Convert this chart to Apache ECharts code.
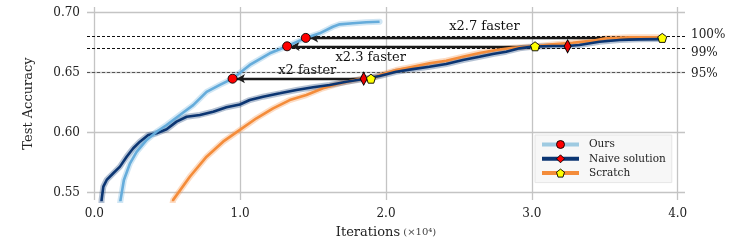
<!DOCTYPE html>
<html><head><meta charset="utf-8">
<script src="https://cdn.jsdelivr.net/npm/echarts@6/dist/echarts.min.js"></script>
<style>html,body{margin:0;padding:0;background:#fff}#c{width:747px;height:249px}</style>
</head><body><div id="c"></div>
<script>
// ---- data ----
const xTicks = [0, 1, 2, 3, 4];
const yTicks = [0.55, 0.60, 0.65, 0.70];
const ours = [[0.165,0.53],[0.18,0.544],[0.203,0.5606],[0.245,0.5745],[0.29,0.584],[0.359,0.594],[0.427,0.6008],[0.496,0.6064],[0.587,0.6148],[0.678,0.623],[0.77,0.634],[0.861,0.6398],[0.948,0.645],[1.066,0.6565],[1.203,0.6662],[1.322,0.672],[1.45,0.679],[1.545,0.6828],[1.636,0.6883],[1.682,0.6903],[1.773,0.6912],[1.865,0.692],[1.956,0.6925]];
const naive = [[0.045,0.53],[0.05,0.544],[0.062,0.555],[0.085,0.5606],[0.13,0.5662],[0.176,0.5717],[0.222,0.58],[0.267,0.587],[0.313,0.5925],[0.37,0.598],[0.427,0.5995],[0.496,0.6028],[0.564,0.6092],[0.633,0.6133],[0.724,0.6148],[0.815,0.6175],[0.906,0.6212],[0.998,0.6235],[1.066,0.6272],[1.157,0.63],[1.272,0.6328],[1.386,0.6356],[1.5,0.6378],[1.614,0.6398],[1.728,0.6425],[1.847,0.6447],[1.956,0.6472],[2.07,0.6508],[2.184,0.653],[2.298,0.655],[2.413,0.6572],[2.527,0.6606],[2.641,0.6633],[2.732,0.6656],[2.824,0.6675],[2.915,0.6703],[3.006,0.6717],[3.143,0.6722],[3.245,0.6722],[3.326,0.6731],[3.463,0.6758],[3.6,0.6772],[3.737,0.6778],[3.894,0.678]];
const scratch = [[0.52,0.53],[0.541,0.544],[0.553,0.5453],[0.655,0.5633],[0.77,0.58],[0.883,0.5925],[0.998,0.6023],[1.112,0.612],[1.226,0.6203],[1.34,0.6272],[1.454,0.6314],[1.568,0.637],[1.682,0.6411],[1.842,0.6453],[1.897,0.6447],[1.956,0.648],[2.07,0.6522],[2.184,0.655],[2.298,0.6578],[2.413,0.66],[2.527,0.6633],[2.641,0.6664],[2.755,0.6689],[2.869,0.6708],[3.022,0.672],[3.143,0.6736],[3.28,0.675],[3.417,0.6767],[3.508,0.6787],[3.668,0.6795],[3.894,0.6795]];
const levels = [0.679, 0.672, 0.645];
const levelLabels = ['100%', '99%', '95%'];
const oursMarks = [[0.948,0.645],[1.322,0.672],[1.45,0.679]];
const naiveMarks = [[1.847,0.645],[3.245,0.672]];
const scratchMarks = [[1.897,0.645],[3.022,0.672],[3.894,0.679]];
// arrows: [from x, to x, level]
const arrows = [[3.894,1.48,0.679],[3.022,1.352,0.672],[1.847,0.978,0.645]];
const arrowTexts = [['x2.7 faster',2.675,0.6881],['x2.3 faster',1.895,0.6625],['x2 faster',1.46,0.6517]];

const FONT = 'DejaVu Serif';
const C_OURS = '#65acdb', C_NAIVE = '#0b3572', C_SCR = '#f48c3a';
const DIAMOND = 'path://M0,-2L0.62,0L0,2L-0.62,0Z';
const PENT = 'path://M0,-1L0.951,-0.309L0.588,0.809L-0.588,0.809L-0.951,-0.309Z';
const LABEL_OFF = [[0,-2],[0,4],[0,1]];

function curve(name, data, color, symbol, z) {
  return {name, type:'line', data, showSymbol:false, symbol, smooth:false, z,
    lineStyle:{color, width:2.6}, itemStyle:{color}, emphasis:{disabled:true}};
}
function band(data, color, z) {
  return {name:'_band', type:'line', data, showSymbol:false, z, silent:true,
    lineStyle:{color, width:6, opacity:0.3, cap:'round', join:'round'}, emphasis:{disabled:true}};
}
function marks(name, data, symbol, size, color, z) {
  return {name, type:'scatter', data, symbol, symbolSize:size, z,
    itemStyle:{color, borderColor:'#000', borderWidth:0.9, opacity:1}, emphasis:{disabled:true}};
}

const option = {
  animation:false,
  grid:{left:87, right:62, top:7, bottom:49},
  xAxis:{type:'value', min:-0.05, max:4.05,
    axisLine:{show:false}, axisTick:{show:false, customValues:xTicks},
    axisLabel:{customValues:xTicks, formatter:v=>v.toFixed(1), fontFamily:FONT, fontSize:12, color:'#222', margin:8},
    splitLine:{show:true, lineStyle:{color:'#c4c4c4', width:1.3}},
    name:'{a|Iterations}{b| (×10⁴)}', nameLocation:'middle', nameGap:26,
    nameTextStyle:{rich:{a:{fontFamily:FONT, fontSize:13, color:'#222'}, b:{fontFamily:FONT, fontSize:10, color:'#444'}}}
  },
  yAxis:{type:'value', min:0.5439, max:0.70475,
    axisLine:{show:false}, axisTick:{show:false, customValues:yTicks},
    axisLabel:{customValues:yTicks, formatter:v=>v.toFixed(2), fontFamily:FONT, fontSize:12, color:'#222', margin:7},
    splitLine:{show:true, lineStyle:{color:'#c4c4c4', width:1.3}},
    name:'Test Accuracy', nameLocation:'middle', nameGap:52,
    nameTextStyle:{fontFamily:FONT, fontSize:13, color:'#222'}
  },
  legend:{orient:'vertical', left:535, top:135, padding:[4,6,4,5], itemGap:3.3, itemWidth:37, itemHeight:10,
    backgroundColor:'#f7f7f7', borderColor:'#e6e6e6', borderWidth:1,
    textStyle:{fontFamily:FONT, fontSize:10.5, color:'#222', padding:[0,0,0,5]},
    data:[
      {name:'Ours', itemStyle:{color:'#ff0000', borderColor:'#000', borderWidth:0.9}, lineStyle:{color:'#9ecae1', width:4}},
      {name:'Naive solution', itemStyle:{color:'#ff0000', borderColor:'#000', borderWidth:0.9}, lineStyle:{color:C_NAIVE, width:4}},
      {name:'Scratch', itemStyle:{color:'#ffff00', borderColor:'#000', borderWidth:0.9}, lineStyle:{color:C_SCR, width:4}}
    ]},
  series:[
    {name:'_levels', type:'line', data:[], z:1, silent:true,
      markLine:{silent:true, symbol:['none','none'], animation:false,
        data: levels.map((v,i)=>({yAxis:v, lineStyle:{color: i===2 ? '#555' : '#111', type:[3,2], width:1},
          label:{show:true, position:'end', formatter:levelLabels[i], fontFamily:FONT, fontSize:12, color:'#222', distance:6, offset:LABEL_OFF[i]}}))}},
    {name:'_arrows', type:'line', data:[], z:2, silent:true,
      markLine:{silent:true, symbol:['none','arrow'], symbolSize:[7,8], animation:false,
        lineStyle:{color:'#1a1a1a', width:2.4, type:'solid'}, label:{show:false},
        data: arrows.map(a=>[{coord:[a[0],a[2]]},{coord:[a[1],a[2]]}])}},
    {name:'_texts', type:'scatter', z:3, symbolSize:0, silent:true, itemStyle:{opacity:1},
      data: arrowTexts.map(t=>({value:[t[1],t[2]], label:{show:true, formatter:t[0], position:'inside', fontFamily:FONT, fontSize:13, color:'#111', opacity:1}}))},
    band(scratch, C_SCR, 4), band(naive, C_NAIVE, 4), band(ours, C_OURS, 4),
    curve('Scratch', scratch, C_SCR, PENT, 5),
    curve('Naive solution', naive, C_NAIVE, DIAMOND, 6),
    curve('Ours', ours, C_OURS, 'circle', 7),
    marks('_m_ours', oursMarks, 'circle', 9, '#ff0000', 10),
    marks('_m_naive', naiveMarks, DIAMOND, [7,13], '#ee0000', 10),
    marks('_m_scr', scratchMarks, PENT, 9, '#ffff00', 10)
  ]
};
echarts.init(document.getElementById('c'), null, {renderer:'canvas'}).setOption(option);
</script></body></html>
